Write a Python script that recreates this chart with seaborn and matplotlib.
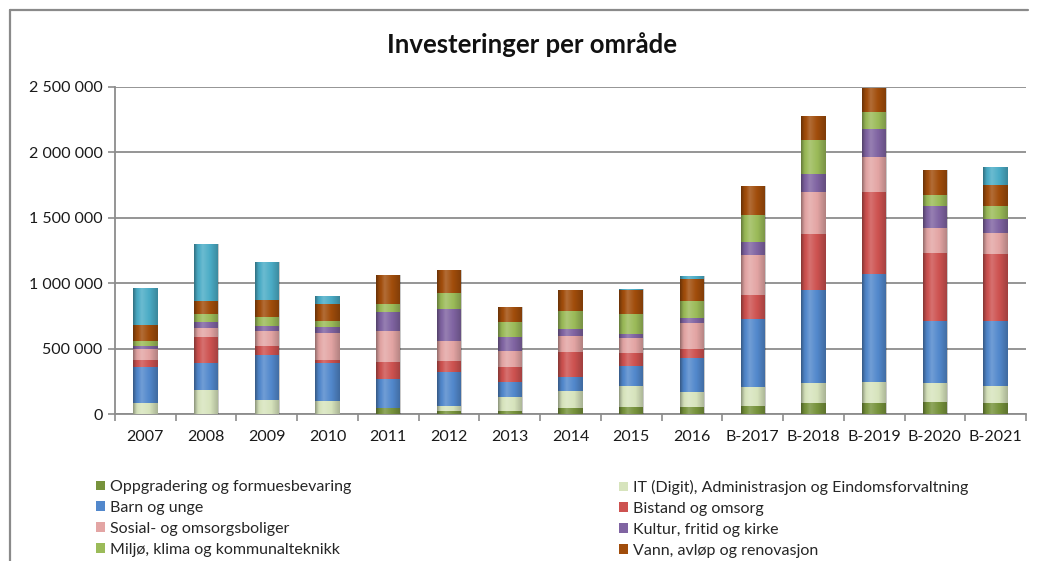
import matplotlib
matplotlib.use("Agg")
import matplotlib.pyplot as plt
import numpy as np
import pandas as pd
import seaborn as sns
from matplotlib.patches import Patch
from matplotlib.lines import Line2D

# ---------------- data ----------------
years = ["2007", "2008", "2009", "2010", "2011", "2012", "2013", "2014", "2015",
         "2016", "B-2017", "B-2018", "B-2019", "B-2020", "B-2021"]

oppgradering = [0, 0, 0, 0, 50000, 27000, 27000, 50000, 58000, 58000, 65000, 84000, 88000, 96000, 84000]
it_admin = [84000, 187000, 111000, 99000, 0, 38000, 102000, 127000, 158000, 110000, 145000, 152000, 155000, 140000, 132000]
barn = [274000, 205000, 340000, 294000, 216000, 254000, 114000, 109000, 154000, 259000, 515000, 715000, 824000, 474000, 495000]
bistand = [56000, 198000, 68000, 21000, 132000, 88000, 119000, 190000, 99000, 68000, 188000, 426000, 632000, 520000, 508000]
sosial = [86000, 66000, 116000, 203000, 238000, 150000, 122000, 119000, 114000, 198000, 299000, 322000, 266000, 193000, 160000]
kultur = [20000, 51000, 38000, 50000, 145000, 244000, 107000, 59000, 33000, 43000, 104000, 135000, 211000, 162000, 107000]
miljo = [38000, 56000, 68000, 46000, 64000, 124000, 114000, 132000, 152000, 127000, 205000, 259000, 126000, 84000, 101000]
vann = [122000, 101000, 132000, 132000, 215000, 178000, 112000, 165000, 177000, 167000, 221000, 185000, 190000, 196000, 160000]
ovrige = [287000, 431000, 291000, 56000, 5000, 0, 0, 0, 10000, 23000, 0, 0, 0, 0, 139000]

series_names = ["Oppgradering og formuesbevaring",
                "IT (Digit), Administrasjon og Eindomsforvaltning",
                "Barn og unge",
                "Bistand og omsorg",
                "Sosial- og omsorgsboliger",
                "Kultur, fritid og kirke",
                "Miljø, klima og kommunalteknikk",
                "Vann, avløp og renovasjon",
                "Øvrige"]
series_values = [oppgradering, it_admin, barn, bistand, sosial, kultur, miljo, vann, ovrige]
series_colors = ["#77933C", "#D7E4BD", "#5288CC", "#CD5250", "#E3A5A4",
                 "#8064A2", "#9BBB59", "#A14D0B", "#4BACC6"]

y_ticks = [0, 500000, 1000000, 1500000, 2000000, 2500000]
y_tick_labels = ["0", "500 000", "1 000 000", "1 500 000", "2 000 000", "2 500 000"]

title = "Investeringer per område"

# ---------------- figure ----------------
sns.set_style("white")
plt.rcParams["font.family"] = ["Lato", "DejaVu Sans"]

W, H = 1042, 561
fig = plt.figure(figsize=(W / 100, H / 100), dpi=100)
ax = fig.add_axes([115 / W, 1 - 414.3 / H, 911 / W, (414.3 - 86.5) / H])

df = pd.DataFrame({"år": years})
cum = np.zeros(len(years))
cums = []
for vals in series_values:
    cum = cum + np.array(vals, dtype=float)
    cums.append(cum.copy())

# draw from the top layer down so lower layers cover upper ones
total_patches = None
for i in range(len(series_values) - 1, -1, -1):
    d = df.copy()
    d["verdi"] = cums[i]
    n_before = len(ax.patches)
    sns.barplot(data=d, x="år", y="verdi", order=years, color=series_colors[i],
                saturation=1, width=0.4, errorbar=None, ax=ax, linewidth=0, zorder=3)
    if total_patches is None:
        total_patches = list(ax.patches[n_before:])

# cylinder-like shading overlay on each full stacked bar
knots_t = [0.0, 0.12, 0.35, 0.65, 1.0]
knots_s = [-0.35, -0.08, 0.18, 0.0, -0.22]
tt = np.linspace(0, 1, 64)
ss = np.interp(tt, knots_t, knots_s)
grad = np.zeros((1, 64, 4))
grad[0, :, :3] = np.where(ss[:, None] > 0, 1.0, 0.0)
grad[0, :, 3] = np.abs(ss)
for p in total_patches:
    x0, w_, h_ = p.get_x(), p.get_width(), p.get_height()
    if h_ <= 0:
        continue
    im = ax.imshow(grad, extent=[x0, x0 + w_, 0, h_], aspect="auto",
                   interpolation="bilinear", zorder=4)
    im.set_clip_path(p)

grid_c = "#8C8C8C"
ax.set_ylim(0, 2500000)
ax.set_xlim(-0.5, len(years) - 0.5)
ax.set_yticks(y_ticks)
ax.set_yticklabels(y_tick_labels)
ax.yaxis.grid(True, color=grid_c, linewidth=1.3, zorder=0)
ax.set_axisbelow(True)
ax.set_xlabel("")
ax.set_ylabel("")
for s in ["top", "right"]:
    ax.spines[s].set_visible(False)
for s in ["left", "bottom"]:
    ax.spines[s].set_color(grid_c)
    ax.spines[s].set_linewidth(1.3)

ax.tick_params(axis="y", which="major", left=True, length=5, width=1.2, color=grid_c,
               labelsize=11.5, labelcolor="#1a1a1a", pad=4)
ax.set_xticks(np.arange(len(years)))
ax.set_xticklabels(years)
ax.set_xticks(np.arange(len(years) + 1) - 0.5, minor=True)
ax.tick_params(axis="x", which="major", bottom=False, labelsize=11.5, labelcolor="#1a1a1a", pad=8)
ax.tick_params(axis="x", which="minor", bottom=True, length=5, width=1.2, color=grid_c)

fig.text(532 / W, 1 - 45 / H, title, ha="center", va="center",
         fontsize=18.5, fontweight="bold", color="#111111")

# chart frame
fc = "#8A8A8A"
fig.add_artist(Line2D([10 / W, 10 / W], [1 - 10 / H, 0], transform=fig.transFigure, color=fc, lw=1.6))
fig.add_artist(Line2D([10 / W, 1028 / W], [1 - 10 / H, 1 - 10 / H], transform=fig.transFigure, color=fc, lw=1.6))

# legend (two columns, row-wise order)
handles = [Patch(facecolor=c, edgecolor="none") for c in series_colors[:8]]
labels = series_names[:8]
leg_kw = dict(frameon=False, fontsize=11.5, handlelength=0.55, handleheight=0.55,
              handletextpad=0.3, labelspacing=0.43, borderpad=0, borderaxespad=0,
              loc="upper left")
fig.legend(handles[0::2], labels[0::2], bbox_to_anchor=(96 / W, 1 - 480 / H), **leg_kw)
fig.legend(handles[1::2], labels[1::2], bbox_to_anchor=(619 / W, 1 - 480 / H), **leg_kw)

fig.savefig("out.png", dpi=100)
